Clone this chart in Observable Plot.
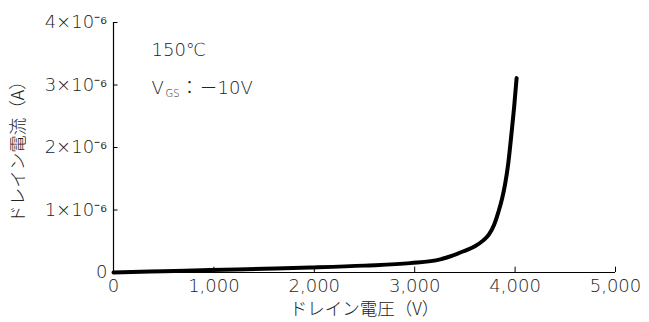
<!DOCTYPE html>
<html>
<head>
<meta charset="utf-8">
<script src="https://cdn.jsdelivr.net/npm/d3@7"></script>
<script src="https://cdn.jsdelivr.net/npm/@observablehq/plot@0.6"></script>
<style>
  html, body { margin: 0; padding: 0; background: #fff; }
  svg text { font-weight: 300; }
  svg .num text, svg text.num { font-weight: 200; }
</style>
</head>
<body>
<div id="chart"></div>
<script>
// Drain voltage (V) and drain current (×10^-6 A)
const voltage = [0, 500, 965, 1500, 1960, 2500, 2955, 3254, 3320, 3486, 3600, 3680, 3740, 3790, 3834, 3870, 3900, 3933, 3965, 3990, 4015];
const currentMicro = [0, 0.02, 0.04, 0.06, 0.08, 0.11, 0.15, 0.21, 0.24, 0.34, 0.42, 0.51, 0.61, 0.76, 0.97, 1.18, 1.41, 1.76, 2.24, 2.64, 3.11];
const xTicks = [0, 1000, 2000, 3000, 4000, 5000];
const yTicks = [0, 1e-6, 2e-6, 3e-6, 4e-6];
const xLabel = "ドレイン電圧（V）";
const yLabel = "ドレイン電流（A）";
const tempText = "150℃";

const data = voltage.map((v, i) => ({v, i: currentMicro[i] * 1e-6}));
const jpFont = "'Noto Sans CJK JP', 'Noto Sans', sans-serif";
const numFont = "'DejaVu Sans', 'Noto Sans CJK JP', sans-serif";
const textColor = "#222";

const chart = Plot.plot({
  width: 649,
  height: 322,
  marginLeft: 113,
  marginRight: 34,
  marginTop: 22,
  marginBottom: 50,
  style: {fontFamily: jpFont, fontSize: "16px", color: textColor, background: "#fff"},
  x: {domain: [0, 5000]},
  y: {domain: [0, 4e-6]},
  marks: [
    Plot.axisX(xTicks, {tickSize: 0, tickPadding: 7, tickFormat: d3.format(","), label: null, fontSize: 18, fontFamily: numFont, className: "num", fill: textColor}),
    Plot.axisY(yTicks, {tickSize: 0, tickPadding: 6, label: null, fontSize: 18, fontFamily: numFont, className: "num", fill: textColor,
      tickFormat: d => d === 0 ? "0" : `${Math.round(d * 1e6)}×10⁻⁶`}),
    Plot.ruleX(xTicks, {x: d => d, y1: 0, y2: 0.085e-6, stroke: "#000", strokeWidth: 1}),
    Plot.ruleY(yTicks, {y: d => d, x1: 0, x2: 45, stroke: "#000", strokeWidth: 1}),
    Plot.ruleY([0], {stroke: "#000", strokeWidth: 1.2}),
    Plot.ruleX([0], {stroke: "#000", strokeWidth: 1.2}),
    Plot.line(data, {x: "v", y: "i", curve: "monotone-x", stroke: "#000", strokeWidth: 4}),
    Plot.text([xLabel], {frameAnchor: "bottom", dy: 37, lineAnchor: "middle", textAnchor: "middle", fontSize: 17.5, fill: textColor, text: d => d}),
    Plot.text([yLabel], {frameAnchor: "left", dx: -95, rotate: -90, lineAnchor: "middle", textAnchor: "middle", fontSize: 17.5, fill: textColor, text: d => d}),
    Plot.text([tempText], {frameAnchor: "top-left", dx: 38, dy: 28, lineAnchor: "middle", textAnchor: "start", fontSize: 18, fontFamily: numFont, className: "num", fill: textColor, text: d => d}),
    Plot.text(["V"], {frameAnchor: "top-left", dx: 38, dy: 66, lineAnchor: "middle", textAnchor: "start", fontSize: 18, fontFamily: numFont, className: "num", fill: textColor, text: d => d}),
    Plot.text(["GS"], {frameAnchor: "top-left", dx: 52, dy: 71, lineAnchor: "middle", textAnchor: "start", fontSize: 10, fontFamily: numFont, className: "num", fill: textColor, text: d => d}),
    Plot.text(["："], {frameAnchor: "top-left", dx: 67, dy: 66, lineAnchor: "middle", textAnchor: "start", fontSize: 18, fill: textColor, text: d => d}),
    Plot.text(["－10V"], {frameAnchor: "top-left", dx: 86, dy: 66, lineAnchor: "middle", textAnchor: "start", fontSize: 18, fontFamily: numFont, className: "num", fill: textColor, text: d => d})
  ]
});
document.getElementById("chart").appendChild(chart);
</script>
</body>
</html>
